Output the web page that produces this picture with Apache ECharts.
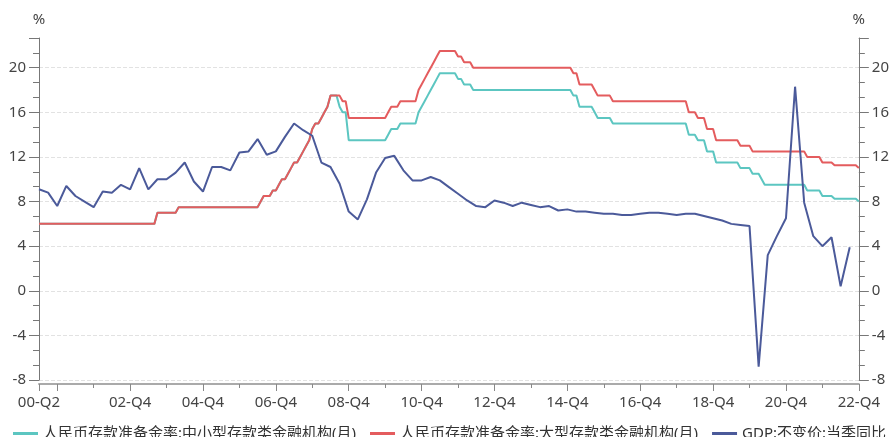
<!DOCTYPE html>
<html>
<head>
<meta charset="utf-8">
<script src="https://cdn.jsdelivr.net/npm/echarts@6/dist/echarts.min.js"></script>
<style>
html,body{margin:0;padding:0;background:#fff;}
#c{width:892px;height:437px;}
</style>
</head>
<body>
<div id="c"></div>
<script>
// Month range of the category axis
const startYear = 2000, startMonth = 6, endYear = 2022, endMonth = 12;

// Series names
const seriesNames = ['人民币存款准备金率:中小型存款类金融机构(月)', '人民币存款准备金率:大型存款类金融机构(月)', 'GDP:不变价:当季同比'];

// Reserve ratio (%) — value effective from the given month
const rrrSmallSteps = [
  ['2000-06',6],['2003-09',7],['2004-04',7.5],['2006-07',8],['2006-08',8.5],['2006-11',9],
  ['2007-01',9.5],['2007-02',10],['2007-04',10.5],['2007-05',11],['2007-06',11.5],['2007-08',12],
  ['2007-09',12.5],['2007-10',13],['2007-11',13.5],['2007-12',14.5],['2008-01',15],['2008-03',15.5],
  ['2008-04',16],['2008-05',16.5],['2008-06',17.5],['2008-09',16.5],['2008-10',16],['2008-12',13.5],
  ['2010-01',14],['2010-02',14.5],['2010-05',15],['2010-11',16],['2010-12',16.5],['2011-01',17],
  ['2011-02',17.5],['2011-03',18],['2011-04',18.5],['2011-05',19],['2011-06',19.5],['2011-12',19],
  ['2012-02',18.5],['2012-05',18],['2015-02',17.5],['2015-04',16.5],['2015-09',16],['2015-10',15.5],
  ['2016-03',15],['2018-04',14],['2018-07',13.5],['2018-10',12.5],['2019-01',11.5],['2019-09',11],
  ['2020-01',10.5],['2020-04',10],['2020-05',9.5],['2021-07',9],['2021-12',8.5],['2022-04',8.25],['2022-12',8]
];
const rrrLargeSteps = [
  ['2000-06',6],['2003-09',7],['2004-04',7.5],['2006-07',8],['2006-08',8.5],['2006-11',9],
  ['2007-01',9.5],['2007-02',10],['2007-04',10.5],['2007-05',11],['2007-06',11.5],['2007-08',12],
  ['2007-09',12.5],['2007-10',13],['2007-11',13.5],['2007-12',14.5],['2008-01',15],['2008-03',15.5],
  ['2008-04',16],['2008-05',16.5],['2008-06',17.5],['2008-10',17],['2008-12',15.5],
  ['2010-01',16],['2010-02',16.5],['2010-05',17],['2010-11',18],['2010-12',18.5],['2011-01',19],
  ['2011-02',19.5],['2011-03',20],['2011-04',20.5],['2011-05',21],['2011-06',21.5],['2011-12',21],
  ['2012-02',20.5],['2012-05',20],['2015-02',19.5],['2015-04',18.5],['2015-09',18],['2015-10',17.5],
  ['2016-03',17],['2018-04',16],['2018-07',15.5],['2018-10',14.5],['2019-01',13.5],['2019-09',13],
  ['2020-01',12.5],['2021-07',12],['2021-12',11.5],['2022-04',11.25],['2022-12',11]
];

// GDP YoY (%) quarterly, 2000-Q2 .. 2022-Q4
const gdpQuarterly = [
  9.1, 8.8, 7.6,
  9.4, 8.5, 8.0, 7.5,
  8.9, 8.8, 9.5, 9.1,
  11.0, 9.1, 10.0, 10.0,
  10.6, 11.5, 9.8, 8.9,
  11.1, 11.1, 10.8, 12.4,
  12.5, 13.6, 12.2, 12.5,
  13.8, 15.0, 14.4, 13.9,
  11.5, 11.1, 9.6, 7.1,
  6.4, 8.2, 10.6, 11.9,
  12.1, 10.8, 9.9, 9.9,
  10.2, 9.9, 9.3, 8.7,
  8.1, 7.6, 7.5, 8.1,
  7.9, 7.6, 7.9, 7.7,
  7.5, 7.6, 7.2, 7.3,
  7.1, 7.1, 7.0, 6.9,
  6.9, 6.8, 6.8, 6.9,
  7.0, 7.0, 6.9, 6.8,
  6.9, 6.9, 6.7, 6.5,
  6.3, 6.0, 5.9, 5.8,
  -6.8, 3.2, 4.9, 6.5,
  18.3, 7.9, 4.9, 4.0,
  4.8, 0.4, 3.9, null
];

// Build monthly categories
const months = [];
for (let y = startYear, m = startMonth; y < endYear || (y === endYear && m <= endMonth); ) {
  months.push(y + '-' + String(m).padStart(2, '0'));
  m++; if (m > 12) { m = 1; y++; }
}
function expandSteps(steps) {
  const out = []; let j = 0; let v = null;
  for (const mo of months) {
    while (j < steps.length && steps[j][0] <= mo) { v = steps[j][1]; j++; }
    out.push(v);
  }
  return out;
}
const smallData = expandSteps(rrrSmallSteps);
const largeData = expandSteps(rrrLargeSteps);
const gdpData = months.map(mo => {
  const y = +mo.slice(0, 4), m = +mo.slice(5);
  if (m % 3 !== 0) return null;
  const q = (y - startYear) * 4 + (m / 3) - (startMonth / 3);
  return q >= 0 && q < gdpQuarterly.length ? gdpQuarterly[q] : null;
});

function quarterLabel(mo) {
  return mo.slice(2, 4) + '-Q' + (+mo.slice(5) / 3);
}
const FONT = "'Noto Sans', 'Noto Sans CJK SC', sans-serif";
const axisGray = '#777';

const chart = echarts.init(document.getElementById('c'), null, { renderer: 'canvas' });
const yCommon = {
  type: 'value', min: -8, max: 22.667, interval: 4,
  name: '%', nameLocation: 'end', nameGap: 11,
  nameTextStyle: { fontSize: 15, color: '#444', fontFamily: FONT },
  axisLine: { show: true, lineStyle: { color: axisGray, width: 1 } },
  axisTick: { show: true, length: 10, lineStyle: { color: axisGray } },
  minorTick: { show: true, splitNumber: 3, length: 6, lineStyle: { color: axisGray } },
  axisLabel: {
    fontSize: 15, color: '#444', fontFamily: FONT, margin: 13, showMaxLabel: false,
    formatter: v => (Math.abs(v % 4) < 1e-6 ? String(v) : '')
  }
};
chart.setOption({
  backgroundColor: '#fff',
  animation: false,
  textStyle: { fontFamily: FONT },
  grid: { left: 39, right: 27, top: 38, bottom: 57, containLabel: false },
  legend: {
    top: 421, left: 8, width: 1400, orient: 'horizontal',
    itemGap: 14, itemWidth: 25, itemHeight: 3, icon: 'rect',
    textStyle: { fontSize: 15, color: '#333', fontFamily: FONT },
    data: seriesNames
  },
  xAxis: [{
    type: 'category', data: months, boundaryGap: false, position: 'bottom', offset: 4,
    axisLine: { onZero: false, lineStyle: { color: '#aaa', width: 2 } },
    axisTick: {
      show: true, length: 7, lineStyle: { color: '#888' },
      interval: (i, v) => i === 0 || (+v.slice(5) === 12 && +v.slice(0, 4) % 2 === 0)
    },
    axisLabel: {
      fontSize: 15, color: '#444', fontFamily: FONT, margin: 11,
      interval: (i, v) => i === 0 || (+v.slice(5) === 12 && +v.slice(0, 4) % 2 === 0 && +v.slice(0, 4) >= 2002),
      formatter: v => quarterLabel(v)
    },
    splitLine: { show: false }
  }, {
    type: 'category', data: months, boundaryGap: false, position: 'bottom', offset: 4,
    axisLine: { show: false, onZero: false },
    axisTick: {
      show: true, length: 4, lineStyle: { color: '#888' },
      interval: (i, v) => +v.slice(5) === 12 && +v.slice(0, 4) % 2 === 1
    },
    axisLabel: { show: false },
    splitLine: { show: false }
  }],
  yAxis: [
    Object.assign({}, yCommon, {
      position: 'left',
      splitLine: { show: true, showMaxLine: false, lineStyle: { type: 'dashed', color: '#e2e2e2' } }
    }),
    Object.assign({}, yCommon, {
      position: 'right',
      splitLine: { show: false }
    })
  ],
  series: [
    {
      name: seriesNames[0], type: 'line', data: smallData, xAxisIndex: 0, yAxisIndex: 0,
      symbol: 'none', lineStyle: { color: '#5cc6c1', width: 2 }, itemStyle: { color: '#5cc6c1' }
    },
    {
      name: seriesNames[1], type: 'line', data: largeData, xAxisIndex: 0, yAxisIndex: 0,
      symbol: 'none', lineStyle: { color: '#e45c5e', width: 2 }, itemStyle: { color: '#e45c5e' }
    },
    {
      name: seriesNames[2], type: 'line', data: gdpData, connectNulls: true, xAxisIndex: 0, yAxisIndex: 1,
      symbol: 'none', lineStyle: { color: '#4b5a9a', width: 2 }, itemStyle: { color: '#4b5a9a' }
    }
  ]
});
</script>
</body>
</html>
